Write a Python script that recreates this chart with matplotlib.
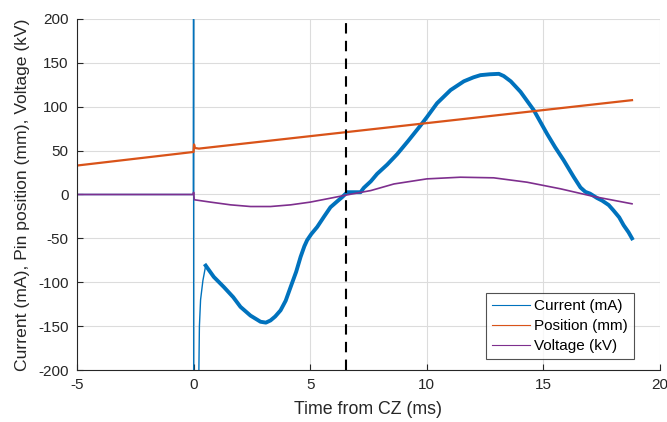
import matplotlib.pyplot as plt

# current trace (mA): spike at CZ, then the slow part
spike_t = [-5, -0.01, 0.0, 0.005, 0.2, 0.25, 0.3, 0.4, 0.52]
spike_i = [0, 0, 260, -260, -260, -150, -120, -98, -81]

cur_t = [0.52, 0.87, 1.3, 1.7, 2.01, 2.44, 2.87, 3.1, 3.3, 3.5, 3.73, 3.95,
         4.16, 4.4, 4.59, 4.75, 4.87, 5.05, 5.3, 5.6, 5.87, 6.15, 6.37, 6.59,
         6.9, 7.16, 7.3, 7.6, 7.87, 8.3, 8.73, 9.2, 9.73, 10.0, 10.44, 11.02,
         11.59, 12.0, 12.3, 12.7, 13.09, 13.3, 13.6, 14.02, 14.59, 15.16,
         15.5, 15.87, 16.3, 16.59, 16.8, 17.0, 17.3, 17.52, 17.8, 18.0,
         18.25, 18.44, 18.65, 18.8]
cur_i = [-81, -94, -105.5, -117, -128, -138, -145, -146, -143.5, -139, -132, -121,
         -105.5, -88, -71, -59, -52, -45, -37, -25, -14.5, -8, -3, 2.6,
         2.6, 2.6, 7.6, 15, 23.5, 34, 46, 61, 78.6, 88, 104, 119,
         129, 133.5, 136, 137, 137.5, 135, 129, 117, 96, 69,
         54, 39, 20, 8, 3, 1, -4, -7, -12, -18,
         -26, -35, -43, -50]

# pin position (mm)
pos_t = [-5, 0.0, 0.02, 0.06, 0.23, 18.8]
pos_y = [33, 48.5, 57, 53, 52.3, 107.5]

# voltage (kV)
volt_t = [-5, -0.01, 0.0, 0.03, 0.73, 1.59, 2.44, 3.3, 4.16, 5.0, 5.87, 6.59,
          7.6, 8.59, 10.0, 11.44, 12.87, 14.3, 15.73, 17.16, 18.8]
volt_v = [0, 0, 2.5, -6, -8.7, -11.8, -13.7, -13.7, -11.8, -8.7, -4.2, -0.4,
          4.5, 12, 17.8, 19.7, 19, 14, 6.5, -2.3, -10.6]

cz_line = 6.55

blue = '#0072BD'
orange = '#D95319'
purple = '#7E2F8E'

plt.rcParams['font.family'] = ['Liberation Sans', 'DejaVu Sans']
plt.rcParams['axes.unicode_minus'] = False

fig = plt.figure(figsize=(6.67, 4.22), dpi=100)
ax = fig.add_axes([0.1154, 0.1232, 0.8741, 0.8318])

ax.plot(spike_t, spike_i, color=blue, lw=1.0)
ax.plot(cur_t, cur_i, color=blue, lw=2.8, solid_joinstyle='round')
ax.plot(pos_t, pos_y, color=orange, lw=1.6)
ax.plot(volt_t, volt_v, color=purple, lw=1.2)
ax.axvline(cz_line, color='black', ls='--', lw=1.5, dashes=(5, 3.5))

ax.set_xlim(-5, 20)
ax.set_ylim(-200, 200)
ax.set_xticks(range(-5, 21, 5))
ax.set_yticks(range(-200, 201, 50))
ax.grid(True, color='#dcdcdc', lw=0.8)
ax.set_axisbelow(True)
for s in ['top', 'right']:
    ax.spines[s].set_visible(False)
ax.spines['left'].set_color('#262626')
ax.spines['bottom'].set_color('#262626')
ax.tick_params(direction='in', labelsize=11, colors='#262626', length=4)
ax.tick_params(axis='y', pad=6)
ax.tick_params(axis='x', pad=6)
ax.set_xlabel('Time from CZ (ms)', fontsize=12.8, color='#262626', labelpad=6)
ax.set_ylabel('Current (mA), Pin position (mm), Voltage (kV)', fontsize=12.6,
              color='#262626', labelpad=6)

h = [plt.Line2D([], [], color=blue, lw=0.8),
     plt.Line2D([], [], color=orange, lw=0.8),
     plt.Line2D([], [], color=purple, lw=0.8)]
leg = ax.legend(h, ['Current (mA)', 'Position (mm)', 'Voltage (kV)'],
                loc='lower right', bbox_to_anchor=(0.955, 0.03), fontsize=11,
                frameon=True, fancybox=False, edgecolor='#262626',
                handlelength=2.5, borderpad=0.4, labelspacing=0.4,
                handletextpad=0.25, borderaxespad=0)
leg.get_frame().set_linewidth(0.8)

fig.savefig('out.png', dpi=100)
